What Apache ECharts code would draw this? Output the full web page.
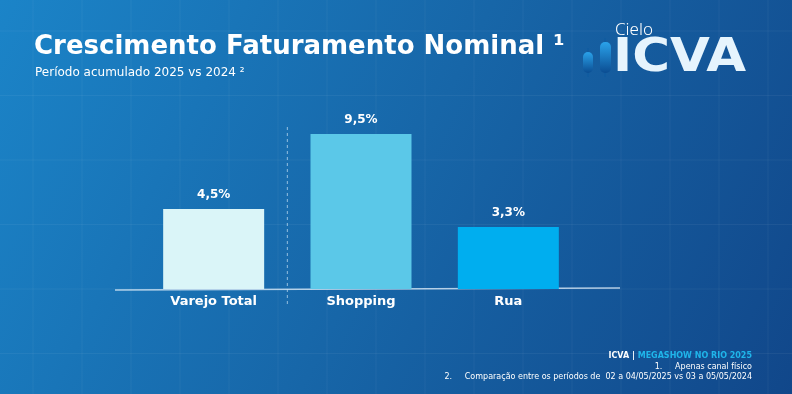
<!DOCTYPE html>
<html><head><meta charset="utf-8">
<script src="https://cdn.jsdelivr.net/npm/echarts@6/dist/echarts.min.js"></script>
<style>html,body{margin:0;padding:0;}#c{width:792px;height:394px;}</style>
</head><body><div id="c"></div>
<script>
const categories = ['Varejo Total', 'Shopping', 'Rua'];
const values = [4.5, 9.5, 3.3];
const barColors = ['#daf5f8', '#5bc8e8', '#00aeef'];
const valueLabels = ['4,5%', '9,5%', '3,3%'];

const FONT = '"DejaVu Sans", sans-serif';
const Y_MIN = -0.83, Y_MAX = 10;
const chart = echarts.init(document.getElementById('c'), null, {renderer: 'canvas'});

const bgLines = [];
for (let x = 33; x < 792; x += 49) bgLines.push({type: 'line', silent: true, z: -9, shape: {x1: x, y1: 0, x2: x, y2: 394}, style: {stroke: 'rgba(255,255,255,0.05)', lineWidth: 1}});
for (let y = 31; y < 394; y += 64.5) bgLines.push({type: 'line', silent: true, z: -9, shape: {x1: 0, y1: y, x2: 792, y2: y}, style: {stroke: 'rgba(255,255,255,0.05)', lineWidth: 1}});

chart.setOption({
  animation: false,
  backgroundColor: {
    type: 'linear', x: 0, y: 0, x2: 1, y2: 1,
    colorStops: [{offset: 0, color: '#1b84c8'}, {offset: 0.5, color: '#1766a8'}, {offset: 1, color: '#11478a'}]
  },
  grid: {left: 140, right: 210, top: 126.5, bottom: 105},
  xAxis: {
    type: 'category', data: categories,
    axisLine: {show: false}, axisTick: {show: false},
    axisLabel: {color: '#ffffff', fontFamily: FONT, fontWeight: 'bold', fontSize: 13, margin: 6}
  },
  yAxis: {type: 'value', min: Y_MIN, max: Y_MAX, show: false, splitLine: {show: false}},
  series: [{
    type: 'custom',
    data: values.map((v, i) => [i, v]),
    renderItem: function (params, api) {
      const i = api.value(0), v = api.value(1);
      const top = api.coord([i, v]);
      const bot = api.coord([i, Y_MIN]);
      const w = 101;
      return {
        type: 'group',
        children: [
          {type: 'rect', shape: {x: top[0] - w / 2, y: top[1], width: w, height: bot[1] - top[1]},
           style: {fill: barColors[i]}},
          {type: 'text', x: top[0], y: top[1] - 8,
           style: {text: valueLabels[i], fill: '#ffffff', font: 'bold 12px ' + FONT, align: 'center', verticalAlign: 'bottom'}}
        ]
      };
    }
  }]
});

const p0 = chart.convertToPixel({xAxisIndex: 0}, 0);
const p1 = chart.convertToPixel({xAxisIndex: 0}, 1);
const sepX = (p0 + p1) / 2;
const baseY = chart.convertToPixel({yAxisIndex: 0}, Y_MIN);

chart.setOption({
  graphic: bgLines.concat([
    {type: 'line', z: 1, shape: {x1: 115, y1: baseY + 1, x2: 620, y2: baseY - 1}, style: {stroke: 'rgba(220,235,248,0.8)', lineWidth: 1.5}},
    {type: 'line', z: 1, shape: {x1: sepX, y1: 127, x2: sepX, y2: 305}, style: {stroke: 'rgba(200,225,245,0.7)', lineWidth: 1, lineDash: [3, 3]}},
    {type: 'text', left: 34, top: 34, style: {text: 'Crescimento Faturamento Nominal ¹', fill: '#ffffff', font: 'bold 26px ' + FONT}},
    {type: 'text', left: 35, top: 67, style: {text: 'Período acumulado 2025 vs 2024 ²', fill: '#ffffff', font: '12px ' + FONT}},
    // logo
    {type: 'text', left: 615, top: 22, style: {text: 'Cielo', fill: '#ffffff', font: '300 17px "Noto Sans", sans-serif'}},
    {type: 'text', x: 613, y: 36, scaleX: 1.12, style: {text: 'ICVA', font: 'bold 46px "DejaVu Sans", sans-serif', fill: '#e6f4fd', verticalAlign: 'top'}},
    {type: 'line', shape: {x1: 588, y1: 48, x2: 588, y2: 77}, style: {stroke: '#0d5aa0', lineWidth: 1}},
    {type: 'rect', shape: {x: 583, y: 52, width: 10, height: 21, r: 5}, style: {fill: {type: 'linear', x: 0, y: 0, x2: 0, y2: 1, colorStops: [{offset: 0, color: '#2aa2ea'}, {offset: 1, color: '#0b4d92'}]}}},
    {type: 'line', shape: {x1: 605, y1: 38, x2: 605, y2: 77}, style: {stroke: '#0d5aa0', lineWidth: 1}},
    {type: 'rect', shape: {x: 600, y: 42, width: 11, height: 31, r: 5}, style: {fill: {type: 'linear', x: 0, y: 0, x2: 0, y2: 1, colorStops: [{offset: 0, color: '#2aa2ea'}, {offset: 1, color: '#0b4d92'}]}}},
    // footer
    {type: 'text', right: 40, top: 352, style: {text: '{w|ICVA | }{c|MEGASHOW NO RIO 2025}', align: 'right',
      rich: {w: {fill: '#ffffff', font: 'bold 8px ' + FONT}, c: {fill: '#1fb5ea', font: 'bold 8px ' + FONT}}}},
    {type: 'text', right: 40, top: 363, style: {text: '1.     Apenas canal físico', fill: '#ffffff', font: '8px ' + FONT}},
    {type: 'text', right: 40, top: 373, style: {text: '2.     Comparação entre os períodos de  02 a 04/05/2025 vs 03 a 05/05/2024', fill: '#ffffff', font: '8px ' + FONT}}
  ])
});
</script></body></html>
